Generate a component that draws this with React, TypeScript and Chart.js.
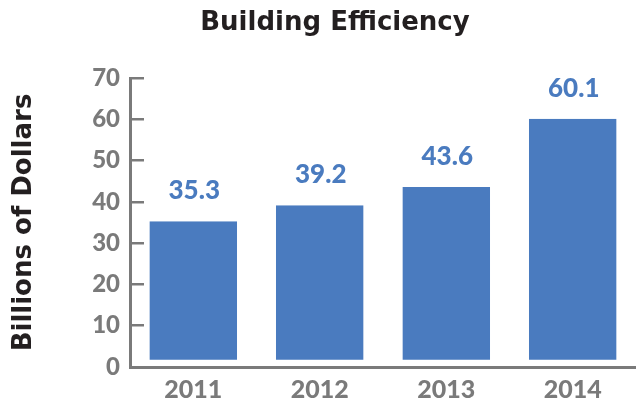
import React, { useEffect, useRef } from 'react';
import { Chart, registerables } from 'chart.js';

Chart.register(...registerables);

const TITLE = 'Building Efficiency';
const Y_TITLE = 'Billions of Dollars';
const categories = ['2011', '2012', '2013', '2014'];
const values = [35.3, 39.2, 43.6, 60.1];
const valueLabels = ['35.3', '39.2', '43.6', '60.1'];
const yTicks = [0, 10, 20, 30, 40, 50, 60, 70];

const BLUE = '#4a7bbf';
const GRAY = '#7a7a7a';
const DARK = '#231f20';
const TEXT_FONT = '"DejaVu Sans", sans-serif';
const NUM_FONT = 'Lato, sans-serif';

export default function App() {
  const ref = useRef<HTMLCanvasElement>(null);

  useEffect(() => {
    if (!ref.current) return;

    const valueLabelPlugin = {
      id: 'valueLabels',
      afterDatasetsDraw(chart: any) {
        const ctx = chart.ctx;
        const meta = chart.getDatasetMeta(0);
        ctx.save();
        ctx.font = `900 26px ${NUM_FONT}`;
        ctx.fillStyle = BLUE;
        ctx.textAlign = 'center';
        ctx.textBaseline = 'alphabetic';
        meta.data.forEach((bar: any, i: number) => {
          ctx.fillText(valueLabels[i], bar.x + 1, bar.y - 22);
        });
        ctx.restore();
      },
    };

    const titlePlugin = {
      id: 'topTitle',
      afterDraw(chart: any) {
        const ctx = chart.ctx;
        ctx.save();
        ctx.font = `bold 26px ${TEXT_FONT}`;
        ctx.fillStyle = DARK;
        ctx.textAlign = 'center';
        ctx.textBaseline = 'alphabetic';
        ctx.fillText(TITLE, 335, 30);
        ctx.restore();
      },
    };

    const chart = new Chart(ref.current, {
      type: 'bar',
      data: {
        labels: categories,
        datasets: [
          {
            data: values,
            backgroundColor: BLUE,
            borderColor: '#ffffff',
            borderWidth: { top: 0, left: 0, right: 0, bottom: 6 },
            borderSkipped: false,
            barPercentage: 0.693,
            categoryPercentage: 1,
          },
        ],
      },
      options: {
        animation: false,
        responsive: true,
        maintainAspectRatio: false,
        layout: { padding: { top: 78, left: 0, right: 0, bottom: 0 } },
        plugins: {
          legend: { display: false },
          tooltip: { enabled: false },
          title: { display: false },
        },
        scales: {
          x: {
            grid: { display: false, drawTicks: false },
            border: { display: true, color: GRAY, width: 3, z: 1 },
            ticks: {
              color: GRAY,
              font: { family: NUM_FONT, weight: '900', size: 25 },
              padding: 8,
            },
            afterFit: (s: any) => {
              s.height = 35;
            },
          },
          y: {
            min: 0,
            max: 70,
            afterBuildTicks: (s: any) => {
              s.ticks = yTicks.map((v) => ({ value: v }));
            },
            grid: {
              display: true,
              drawTicks: false,
              drawOnChartArea: true,
              color: GRAY,
              lineWidth: 2.5,
            },
            border: { display: true, color: GRAY, width: 3, dash: [12, 3000] },
            ticks: {
              color: GRAY,
              font: { family: NUM_FONT, weight: '900', size: 24 },
              padding: 10,
            },
            title: {
              display: true,
              text: Y_TITLE,
              color: DARK,
              font: { family: TEXT_FONT, weight: 'bold', size: 26 },
              padding: { top: 9, bottom: 0 },
            },
            afterFit: (s: any) => {
              s.width = 130;
            },
          },
        },
      },
      plugins: [valueLabelPlugin, titlePlugin],
    });

    return () => chart.destroy();
  }, []);

  return (
    <div style={{ position: 'absolute', left: 0, top: 0, width: 636, height: 402 }}>
      <canvas ref={ref} />
    </div>
  );
}
